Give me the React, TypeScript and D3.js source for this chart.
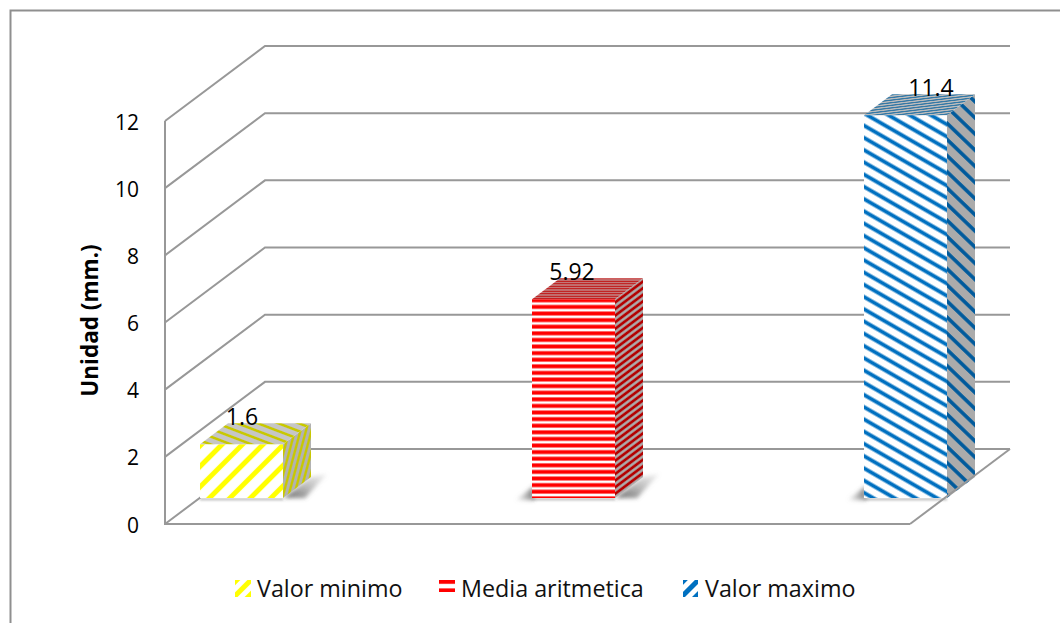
import React from "react";
import * as d3 from "d3";

const categories = ["Valor minimo", "Media aritmetica", "Valor maximo"];
const values = [1.6, 5.92, 11.4];
const valueLabels = ["1.6", "5.92", "11.4"];
const yTicks = [0, 2, 4, 6, 8, 10, 12];

const WIDTH = 1060;
const HEIGHT = 623;

// 3D box geometry of the plot: wall depth and bar depth as screen offsets
const axisX = 165;
const wallDx = 100;
const wallDy = -75;
const barInsetY = -26;
const barDepthX = 28;
const barDepthY = -21;
const barWidth = 83;
const floorRight = 910;
const backRight = 1010;

const y = d3.scaleLinear().domain([0, 12]).range([524, 121]);
const x = d3.scalePoint<string>().domain(categories).range([200, 864]);

const faceFill: Record<string, { ink: string; inkSide: string; inkTop: string; sideBg: string; topBg: string }> = {
  "Valor minimo": { ink: "#ffff00", inkSide: "#c8c800", inkTop: "#c8c800", sideBg: "#b2b2b2", topBg: "#c6c6c6" },
  "Media aritmetica": { ink: "#ff0000", inkSide: "#b40000", inkTop: "#c00000", sideBg: "#acacac", topBg: "#c4c4c4" },
  "Valor maximo": { ink: "#0070c0", inkSide: "#005a9c", inkTop: "#005f9e", sideBg: "#ababab", topBg: "#bcbcbc" },
};

// period and thickness of each hatch on the front face, and separately on the side face
const hatch: Record<string, { period: number; stroke: number; angle: number; sidePeriod: number; sideStroke: number }> = {
  "Valor minimo": { period: 14.5, stroke: 5, angle: 135, sidePeriod: 14.5, sideStroke: 6.5 },
  "Media aritmetica": { period: 6.6, stroke: 3.9, angle: 0, sidePeriod: 6.6, sideStroke: 3.4 },
  "Valor maximo": { period: 10.6, stroke: 3.8, angle: 30, sidePeriod: 14, sideStroke: 4.3 },
};

// legend swatches: stripe geometry and swatch size
const legendKeys: Record<string, { x: number; w: number; h: number; period: number; stroke: number; angle: number; shift: number }> = {
  "Valor minimo": { x: 235, w: 16, h: 17, period: 10, stroke: 5, angle: -45, shift: -1.2 },
  "Media aritmetica": { x: 439, w: 16, h: 12, period: 8.4, stroke: 3.8, angle: 0, shift: 0 },
  "Valor maximo": { x: 683, w: 15, h: 17, period: 10, stroke: 5, angle: -45, shift: -1.6 },
};

function HatchPattern({ id, bg, ink, period, stroke, angle }: { id: string; bg: string; ink: string; period: number; stroke: number; angle: number }) {
  return (
    <pattern
      id={id}
      patternUnits="userSpaceOnUse"
      width={period}
      height={period}
      patternTransform={`rotate(${angle})`}
    >
      <rect width={period} height={period} fill={bg} />
      <rect y={(period - stroke) / 2} width={period} height={stroke} fill={ink} />
    </pattern>
  );
}

const font = "'Open Sans', sans-serif";
const gridStroke = "#989898";
const labelCenter = [42, 40, 67];

export default function App() {
  const base = y(0) + barInsetY;
  const barTop = (v: number) => base - (y(0) - y(v));
  return (
    <svg
      width={WIDTH}
      height={HEIGHT}
      viewBox={`0 0 ${WIDTH} ${HEIGHT}`}
      style={{ position: "absolute", left: 0, top: 0, background: "#ffffff" }}
    >
      <defs>
        {categories.map((c, i) => {
          const h = hatch[c];
          const k = legendKeys[c];
          return (
            <g key={c}>
              <HatchPattern id={`front${i}`} bg="#ffffff" ink={faceFill[c].ink} period={h.period} stroke={h.stroke} angle={h.angle} />
              <HatchPattern id={`side${i}`} bg={faceFill[c].sideBg} ink={faceFill[c].inkSide} period={h.sidePeriod} stroke={h.sideStroke} angle={h.angle} />
              <HatchPattern id={`top${i}`} bg={faceFill[c].topBg} ink={faceFill[c].inkTop} period={h.period} stroke={h.stroke} angle={h.angle} />
              <pattern
                id={`legend${i}`}
                patternUnits="userSpaceOnUse"
                width={k.period}
                height={k.period}
                patternTransform={`translate(${k.x} 580) rotate(${k.angle}) translate(0 ${k.shift})`}
              >
                <rect width={k.period} height={k.period} fill="#fff" />
                <rect width={k.period} height={k.stroke} fill={faceFill[c].ink} />
              </pattern>
            </g>
          );
        })}
        <filter id="soft" x="-60%" y="-60%" width="220%" height="220%">
          <feGaussianBlur stdDeviation="2" />
        </filter>
        <filter id="edge" x="-5%" y="-200%" width="110%" height="500%">
          <feGaussianBlur stdDeviation="0.8" />
        </filter>
        <linearGradient id="shadowRight" x1="0" y1="1" x2="1" y2="0">
          <stop offset="0" stopColor="#444" stopOpacity="0.8" />
          <stop offset="1" stopColor="#999" stopOpacity="0.15" />
        </linearGradient>
        <linearGradient id="shadowLeft" x1="1" y1="0" x2="0" y2="0">
          <stop offset="0" stopColor="#555" stopOpacity="0.8" />
          <stop offset="1" stopColor="#999" stopOpacity="0.15" />
        </linearGradient>
      </defs>

      {/* chart frame */}
      <path d={`M10.5 ${HEIGHT} V10.5 H${WIDTH}`} fill="none" stroke="#8f8f8f" strokeWidth={2} />

      {/* side wall and back wall gridlines */}
      {yTicks.map((t) => (
        <path
          key={t}
          d={`M${axisX} ${y(t)} L${axisX + wallDx} ${y(t) + wallDy} H${backRight}`}
          fill="none"
          stroke={gridStroke}
          strokeWidth={2}
        />
      ))}

      {/* vertical axis and front floor edge */}
      <path d={`M${axisX} ${y(12)} V${y(0)} H${floorRight}`} fill="none" stroke={gridStroke} strokeWidth={2} />

      {/* tick labels */}
      {yTicks.map((t) => (
        <text key={t} x={139} y={y(t) + 8.5} textAnchor="end" fontFamily={font} fontSize={21} fill="#000">
          {t}
        </text>
      ))}
      <text
        transform={`translate(98 ${y(6) - 2}) rotate(-90)`}
        textAnchor="middle"
        fontFamily={font}
        fontSize={22.5}
        fontWeight={700}
        fill="#000"
      >
        Unidad (mm.)
      </text>

      {/* bars */}
      {categories.map((c, i) => {
        const left = x(c) as number;
        const right = left + barWidth;
        const top = barTop(values[i]);
        const h = base - top;
        const k = barWidth;
        return (
          <g key={c}>
            {/* shadows cast on the floor fall outward from the centre of the chart */}
            {i < 2 && (
              <polygon
                points={`${right},${base} ${right + barDepthX},${base + barDepthY} ${right + barDepthX + 16},${base + barDepthY - 3} ${right + 22},${base}`}
                fill="url(#shadowRight)"
                filter="url(#soft)"
              />
            )}
            {i > 0 && (
              <polygon
                points={`${left + 2},${base + 2} ${left - 16},${base + 2} ${left + 2},${base - 12}`}
                fill="url(#shadowLeft)"
                filter="url(#soft)"
              />
            )}
            <rect x={left} y={base} width={barWidth} height={2.5} fill="#888" opacity={0.5} filter="url(#edge)" />
            {/* front face */}
            <rect x={left} y={top} width={barWidth} height={h} fill={`url(#front${i})`} />
            {/* side face: the front hatch sheared into the bar's depth */}
            <rect
              width={k}
              height={h}
              fill={`url(#side${i})`}
              transform={`matrix(${barDepthX / k} ${barDepthY / k} 0 1 ${right} ${top})`}
            />
            {/* top face */}
            <rect
              width={k}
              height={k}
              fill={`url(#top${i})`}
              transform={`matrix(1 0 ${barDepthX / k} ${barDepthY / k} ${left} ${top})`}
            />
          </g>
        );
      })}

      {/* right edge of the floor passes in front of the last bar's foot */}
      <path
        d={`M${floorRight} ${y(0)} L${floorRight + wallDx} ${y(0) + wallDy}`}
        fill="none"
        stroke={gridStroke}
        strokeWidth={2}
      />

      {/* value labels */}
      {categories.map((c, i) => (
        <text
          key={c}
          x={(x(c) as number) + labelCenter[i]}
          y={barTop(values[i]) - 19.5}
          fontFamily={font}
          fontSize={23}
          textAnchor="middle"
          fill="#000"
        >
          {valueLabels[i]}
        </text>
      ))}

      {/* legend */}
      {categories.map((c, i) => {
        const k = legendKeys[c];
        return (
          <g key={c}>
            <rect x={k.x} y={580} width={k.w} height={k.h} fill={`url(#legend${i})`} />
            <text x={[257, 461, 705][i]} y={596.5} fontFamily={font} fontSize={23.3} fill="#111">
              {c}
            </text>
          </g>
        );
      })}
    </svg>
  );
}
